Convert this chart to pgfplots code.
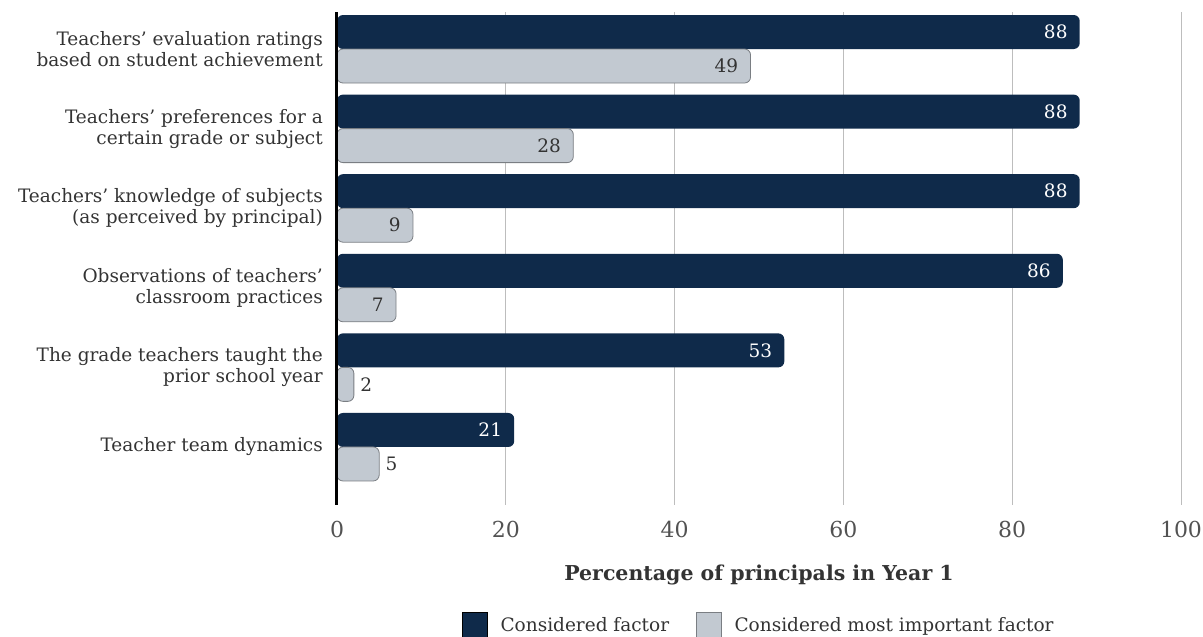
\documentclass[border=0pt]{standalone}
\usepackage{pgfplots}
\pgfplotsset{compat=1.18}
\usepackage{pgfplotstable}
\usepackage{fontspec}
\setmainfont{DejaVu Serif}
\definecolor{navy}{HTML}{0F2A4A}
\definecolor{lightbar}{HTML}{C2C9D1}
\definecolor{lightedge}{HTML}{7A7E83}
\definecolor{gridc}{HTML}{BDBDBD}
\definecolor{txt}{HTML}{333333}

\pgfplotstableread{
y v
5 88
4 88
3 88
2 86
1 53
0 21
}\considered
\pgfplotstableread{
y v
5 49
4 28
3 9
2 7
}\mostbig
\pgfplotstableread{
y v
1 2
0 5
}\mostsmall

\begin{document}
\begin{tikzpicture}
\path[use as bounding box] (0,0) rectangle (1203pt,637pt);
\begin{axis}[
  at={(337pt,132pt)}, anchor=south west,
  scale only axis, width=844pt, height=493pt,
  xbar, bar width=34pt,
  legend image code/.code={\draw[#1, rounded corners=0pt] (0pt,-12.5pt) rectangle (25pt,12.5pt); \path[draw=none, fill=none] (0pt,0pt) rectangle (36pt,0.1pt);},
  xmin=0, xmax=100, ymin=-0.729, ymax=5.465,
  x coord trafo/.code={\pgfmathparse{#1+10}},
  x coord inv trafo/.code={\pgfmathparse{#1-10}},
  xtick={0,20,40,60,80,100},
  xticklabels={0,20,40,60,80,100},
  ytick={0,1,2,3,4,5},
  yticklabels={
    {Teacher team dynamics},
    {The grade teachers taught the\\prior school year},
    {Observations of teachers’\\classroom practices},
    {Teachers’ knowledge of subjects\\(as perceived by principal)},
    {Teachers’ preferences for a\\certain grade or subject},
    {Teachers’ evaluation ratings\\based on student achievement}},
  axis lines=left,
  axis line style={draw=none},
  major tick length=0pt,
  xmajorgrids, grid style={gridc, line width=0.8pt},
  yticklabel style={font=\fontsize{18.5}{21}\selectfont, text=txt, align=right, inner sep=0pt, xshift=-14pt},
  xticklabel style={font=\fontsize{22}{26}\selectfont, text=txt!85, inner sep=0pt, yshift=-16pt},
  /pgf/number format/assume math mode=true,
  xlabel={\textbf{Percentage of principals in Year 1}},
  xlabel style={font=\fontsize{20.5}{24}\selectfont, text=txt, at={(axis description cs:0.5,0)}, anchor=center, yshift=-70pt},
  legend style={at={(0.5,-0.217)}, anchor=north, draw=none, fill=none,
    font=\fontsize{18.5}{22}\selectfont, text=txt, inner sep=0pt,
    /tikz/every even column/.append style={column sep=25pt}},
  legend columns=2,
  legend cell align=left,
  point meta=explicit,
]
\addplot[fill=navy, draw=none, rounded corners=6pt, bar shift=17pt,
  nodes near coords,
  every node near coord/.append style={text=white, font=\fontsize{18.5}{22}\selectfont, anchor=east, xshift=-12pt, inner sep=0pt}]
  table[x=v, y=y, meta=v] {\considered};
\addlegendentry{Considered factor}
\addplot[fill=lightbar, draw=lightedge, line width=0.8pt, rounded corners=6pt, bar shift=-17pt,
  nodes near coords,
  every node near coord/.append style={text=txt, font=\fontsize{18.5}{22}\selectfont, anchor=east, xshift=-12pt, inner sep=0pt}]
  table[x=v, y=y, meta=v] {\mostbig};
\addlegendentry{Considered most important factor}
\addplot[fill=lightbar, draw=lightedge, line width=0.8pt, rounded corners=6pt, bar shift=-17pt,
  nodes near coords, forget plot,
  every node near coord/.append style={text=txt, font=\fontsize{18.5}{22}\selectfont, anchor=west, xshift=6pt, inner sep=0pt}]
  table[x=v, y=y, meta=v] {\mostsmall};
\end{axis}
\draw[black, line width=3pt] (336pt,132pt) -- (336pt,625pt);
\end{tikzpicture}
\end{document}
